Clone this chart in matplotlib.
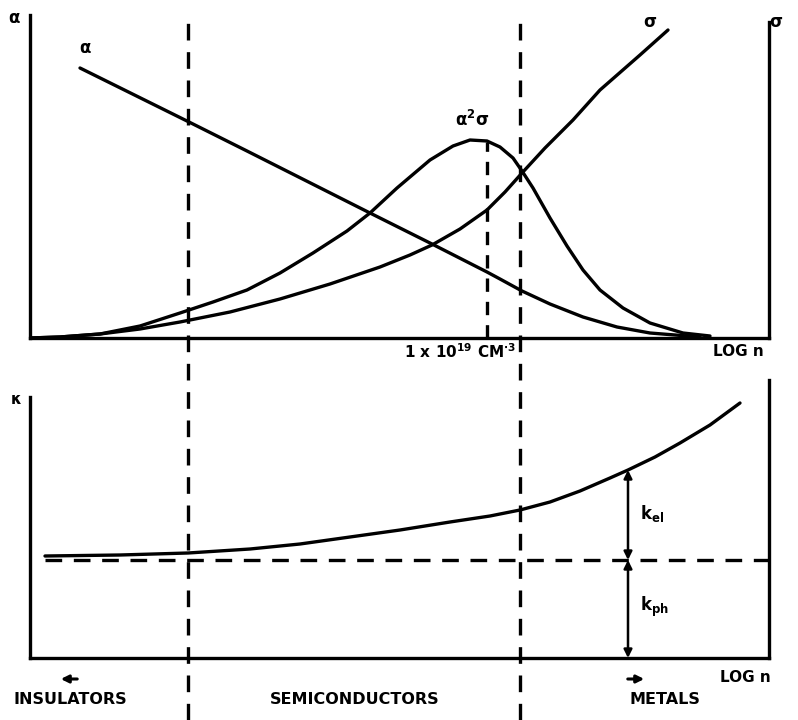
import matplotlib.pyplot as plt

plt.rcParams['font.family'] = ['DejaVu Sans']
plt.rcParams['mathtext.default'] = 'bf'

# log n axis is arbitrary (schematic)
alpha_x = [80, 187, 247, 370, 432, 487, 500, 522, 550, 583, 617, 650, 700]
alpha_y = [270, 217, 187, 125, 94, 66, 59, 47, 34, 21, 11, 5, 1]

sigma_x = [30, 60, 100, 140, 180, 230, 280, 330, 380, 410, 432, 460, 487, 505, 522, 545, 573, 600, 640, 668]
sigma_y = [0, 1, 4, 9, 16, 26, 39, 54, 71, 83, 93, 109, 128, 146, 165, 190, 218, 248, 283, 308]

power_x = [30, 60, 100, 140, 180, 213, 247, 280, 313, 347, 370, 397, 430, 453, 470, 487, 500,
           513, 522, 533, 550, 567, 583, 600, 623, 650, 683, 710]
power_y = [0, 1, 4, 12, 25, 36, 48, 65, 85, 107, 125, 150, 178, 192, 198, 197, 191,
           180, 167, 150, 120, 92, 68, 48, 30, 15, 5, 2]
peak_x = 487
peak_y = 196

kappa_x = [45, 120, 188, 250, 300, 350, 400, 450, 490, 520, 550, 580, 610, 628, 655, 680, 710, 740]
kappa_y = [102, 103, 105, 109, 114, 121, 128, 136, 142, 148, 156, 167, 180, 188, 201, 215, 233, 255]
kappa_ph = 98
kappa_ph_start = 45
split_x = 628

boundaries = [188, 520]
regions = ['INSULATORS', 'SEMICONDUCTORS', 'METALS']
region_x = [70, 355, 665]

W, H = 798, 720
fig = plt.figure(figsize=(W / 100, H / 100), dpi=100)
lw = 2.4
xlo, xhi = 30, 769

# top panel: alpha, sigma, alpha^2 sigma
ax1 = fig.add_axes([xlo / W, (H - 338) / H, (xhi - xlo) / W, (338 - 15) / H])
ax1.plot(alpha_x, alpha_y, color='black', lw=lw, solid_capstyle='round')
ax1.plot(sigma_x, sigma_y, color='black', lw=lw, solid_capstyle='round')
ax1.plot(power_x, power_y, color='black', lw=lw, solid_capstyle='round')
ax1.plot([peak_x, peak_x], [0, peak_y], color='black', lw=lw, dashes=(4, 3))
ax1.set_xlim(xlo, xhi)
ax1.set_ylim(0, 323)
ax1.spines['top'].set_visible(False)
ax1.spines['right'].set_bounds(0, 316)
for s in ax1.spines.values():
    s.set_linewidth(lw)
ax1.set_xticks([])
ax1.set_yticks([])
ax1.patch.set_alpha(0)

ax1.text(14, 320, 'α', fontsize=12, fontweight='bold', ha='center', va='center')
ax1.text(alpha_x[0] + 5, alpha_y[0] + 20, 'α', fontsize=12, fontweight='bold', ha='center', va='center')
ax1.text(sigma_x[-1] - 18, sigma_y[-1] + 8, 'σ', fontsize=12, fontweight='bold', ha='center', va='center')
ax1.text(xhi + 7, 316, 'σ', fontsize=12, fontweight='bold', ha='center', va='center')
ax1.text(peak_x - 15, peak_y + 22, r'α$^{2}$σ', fontsize=12, fontweight='bold', ha='center', va='center')
ax1.text(peak_x - 27, -14, r'1 x 10$^{19}$ CM$^{\cdot 3}$', fontsize=11, fontweight='bold',
         ha='center', va='center')
ax1.text(738, -14, 'LOG n', fontsize=11, fontweight='bold', ha='center', va='center')

# bottom panel: thermal conductivity
ax2 = fig.add_axes([xlo / W, (H - 658) / H, (xhi - xlo) / W, (658 - 380) / H])
ax2.plot(kappa_x, kappa_y, color='black', lw=lw, solid_capstyle='round')
ax2.plot([kappa_ph_start, xhi], [kappa_ph, kappa_ph], color='black', lw=lw, dashes=(5, 3.5))
ax2.set_xlim(xlo, xhi)
ax2.set_ylim(0, 278)
ax2.spines['top'].set_visible(False)
ax2.spines['left'].set_bounds(0, 261)
for s in ax2.spines.values():
    s.set_linewidth(lw)
ax2.set_xticks([])
ax2.set_yticks([])
ax2.patch.set_alpha(0)

k_top = kappa_y[kappa_x.index(split_x)]
arrow = dict(arrowstyle='<|-|>', color='black', lw=1.8, mutation_scale=12, shrinkA=0, shrinkB=0)
ax2.annotate('', xy=(split_x, k_top), xytext=(split_x, kappa_ph), arrowprops=arrow)
ax2.annotate('', xy=(split_x, kappa_ph), xytext=(split_x, 0), arrowprops=arrow)
ax2.text(split_x + 12, (k_top + kappa_ph) / 2 + 2, r'k$_{el}$', fontsize=12, fontweight='bold', va='center')
ax2.text(split_x + 12, kappa_ph / 2 + 2, r'k$_{ph}$', fontsize=12, fontweight='bold', va='center')

ax2.text(16, 259, 'κ', fontsize=11, fontweight='bold', ha='center', va='center')
ax2.text(745, -19, 'LOG n', fontsize=11, fontweight='bold', ha='center', va='center')
for name, rx in zip(regions, region_x):
    ax2.text(rx, -42, name, fontsize=11.5, fontweight='bold', ha='center', va='center')
side = dict(arrowstyle='-|>', color='black', lw=2.2, mutation_scale=11)
ax2.annotate('', xy=(58, -21), xytext=(80, -21), arrowprops=side, annotation_clip=False)
ax2.annotate('', xy=(647, -21), xytext=(625, -21), arrowprops=side, annotation_clip=False)

# region boundaries run through both panels
ov = fig.add_axes([xlo / W, 0, (xhi - xlo) / W, 1])
ov.set_xlim(xlo, xhi)
ov.set_ylim(0, H)
ov.axis('off')
for bx in boundaries:
    ov.plot([bx, bx], [0, H - 15], color='black', lw=lw, dashes=(5, 3.5))

fig.savefig('out.png', dpi=100)
